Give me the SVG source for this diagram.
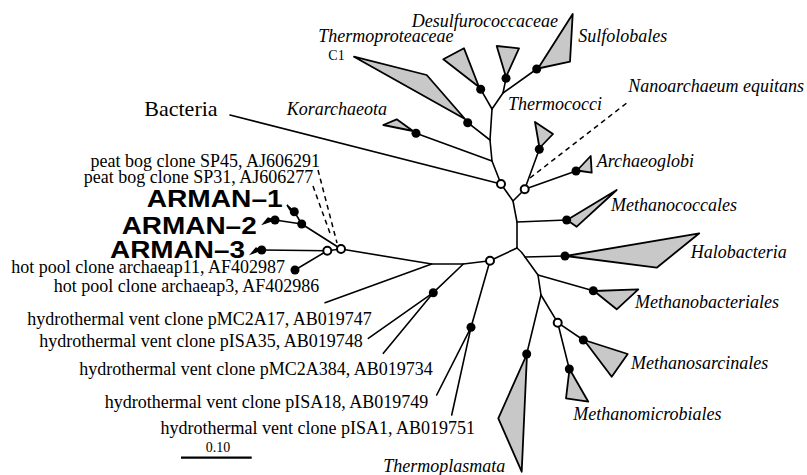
<svg xmlns="http://www.w3.org/2000/svg" width="807" height="475" viewBox="0 0 807 475">
<style>
.br{fill:none;stroke:#000;stroke-width:1.6;stroke-linecap:round;stroke-linejoin:round}
.ds{fill:none;stroke:#000;stroke-width:1.5;stroke-dasharray:5,4}
.tri{fill:#c8c8c8;stroke:#000;stroke-width:1.8;stroke-linejoin:round}
.dot{fill:#000}
.oc{fill:#fff;stroke:#000;stroke-width:2}
.lab{font-family:"Liberation Serif","Times New Roman",serif;font-size:18px;fill:#000}
.it{font-family:"Liberation Serif","Times New Roman",serif;font-size:18px;font-style:italic;fill:#000}
.arm{font-family:"Liberation Sans",Arial,sans-serif;font-weight:bold;font-size:23.5px;fill:#000}
.sm{font-family:"Liberation Serif","Times New Roman",serif;font-size:14px;fill:#000}
</style>
<rect width="807" height="475" fill="#fff"/>
<g id="connectors">
<polyline class="br" points="492,109 490,140 492,161 501,184 513,201 517,222 517,248"/>
<line class="br" x1="490" y1="140" x2="467.7" y2="122.7"/>
<line class="br" x1="492" y1="161" x2="416" y2="133.3"/>
<line class="br" x1="501" y1="184" x2="230" y2="115"/>
<line class="br" x1="492" y1="109" x2="480.7" y2="89.3"/>
<polyline class="br" points="492,109 503,93 506,78.3"/>
<line class="br" x1="503" y1="93" x2="536.7" y2="69"/>
<line class="br" x1="513" y1="201" x2="524.7" y2="189.3"/>
<line class="br" x1="524.7" y1="189.3" x2="539.3" y2="149.3"/>
<line class="br" x1="524.7" y1="189.3" x2="576" y2="171"/>
<line class="ds" x1="530" y1="178" x2="628" y2="102"/>
<line class="br" x1="517" y1="222" x2="566.7" y2="220"/>
<path class="br" d="M517,248 Q522,252 525,257 L538,275 L541,295"/>
<line class="br" x1="525" y1="257" x2="565" y2="256"/>
<line class="br" x1="538" y1="275" x2="593.3" y2="290.7"/>
<line class="br" x1="541" y1="295" x2="557.7" y2="322.7"/>
<line class="br" x1="541" y1="295" x2="526.7" y2="354"/>
<line class="br" x1="557.7" y1="322.7" x2="583.3" y2="340"/>
<line class="br" x1="557.7" y1="322.7" x2="569.3" y2="369"/>
<line class="br" x1="517" y1="248" x2="490" y2="260.7"/>
<polyline class="br" points="490,260.7 463.3,264 431.7,264 341,249"/>
<line class="br" x1="490" y1="260.7" x2="471" y2="327.3"/>
<line class="br" x1="471" y1="327.3" x2="436.7" y2="395"/>
<line class="br" x1="471" y1="327.3" x2="451.7" y2="415"/>
<line class="br" x1="463.3" y1="264" x2="433.3" y2="292.7"/>
<line class="br" x1="433.3" y1="292.7" x2="368.3" y2="338.3"/>
<line class="br" x1="433.3" y1="292.7" x2="383.3" y2="353.3"/>
<line class="br" x1="431.7" y1="264" x2="325" y2="302.7"/>
<line class="br" x1="341" y1="249" x2="327.3" y2="250.7"/>
<line class="br" x1="341" y1="249" x2="301.7" y2="224"/>
<line class="br" x1="301.7" y1="224" x2="294.3" y2="211.7"/>
<line class="br" x1="301.7" y1="224" x2="275" y2="220"/>
<line class="br" x1="327.3" y1="250.7" x2="261.7" y2="250"/>
<line class="br" x1="327.3" y1="250.7" x2="295" y2="270"/>
<line class="ds" x1="318" y1="170" x2="337" y2="243"/>
<line class="ds" x1="313" y1="186" x2="331" y2="236"/>
<line x1="181" y1="457.7" x2="251.7" y2="457.7" stroke="#000" stroke-width="2.2"/>
</g>
<g id="Thermoproteaceae"><polygon class="tri" points="354,56.7 426.7,75 465,119"/><circle class="dot" cx="467.7" cy="122.7" r="4.5"/><text class="it" x="318.3" y="42.3">Thermoproteaceae</text><text class="sm" x="328.3" y="60">C1</text></g>
<g id="Korarchaeota"><polygon class="tri" points="383.3,125 396.7,119.3 413,131"/><circle class="dot" cx="416" cy="133.3" r="4.5"/><text class="it" x="286.7" y="115">Korarchaeota</text></g>
<g id="Desulfurococcaceae"><polygon class="tri" points="443.3,59.3 464,48.3 479,87"/><circle class="dot" cx="480.7" cy="89.3" r="4.5"/><polygon class="tri" points="496.7,46 519,48.3 506,77"/><circle class="dot" cx="506" cy="78.3" r="4.5"/><text class="it" x="411.7" y="26.7">Desulfurococcaceae</text></g>
<g id="Sulfolobales"><polygon class="tri" points="572.7,14 570,61.7 538,68.5"/><circle class="dot" cx="536.7" cy="69" r="4.5"/><text class="it" x="578.3" y="41.7">Sulfolobales</text></g>
<g id="Thermococci"><polygon class="tri" points="535,122 553,134 539.5,148"/><circle class="dot" cx="539.3" cy="149.3" r="4.5"/><text class="it" x="508" y="110">Thermococci</text></g>
<g id="Nanoarchaeum"><text class="it" x="628.3" y="92">Nanoarchaeum equitans</text></g>
<g id="Archaeoglobi"><polygon class="tri" points="590.7,156 591.7,172.7 577,170.5"/><circle class="dot" cx="576" cy="171" r="4.5"/><text class="it" x="596.7" y="166.7">Archaeoglobi</text></g>
<g id="Methanococcales"><polygon class="tri" points="616.7,190 576.7,226.7 567,220"/><circle class="dot" cx="566.7" cy="220" r="4.5"/><text class="it" x="611" y="210.7">Methanococcales</text></g>
<g id="Halobacteria"><polygon class="tri" points="699.3,233.3 656.7,267.7 566,256"/><circle class="dot" cx="565" cy="256" r="4.5"/><text class="it" x="690.7" y="257.7">Halobacteria</text></g>
<g id="Methanobacteriales"><polygon class="tri" points="638.3,289.3 616.7,309.3 594,291"/><circle class="dot" cx="593.3" cy="290.7" r="4.5"/><text class="it" x="635" y="308.3">Methanobacteriales</text></g>
<g id="Methanosarcinales"><polygon class="tri" points="627.7,354 611.7,376.7 584,340"/><circle class="dot" cx="583.3" cy="340" r="4.5"/><text class="it" x="631" y="369.3">Methanosarcinales</text></g>
<g id="Methanomicrobiales"><polygon class="tri" points="566,398.3 588.3,401.7 569.5,369"/><circle class="dot" cx="569.3" cy="369" r="4.5"/><text class="it" x="573.3" y="420">Methanomicrobiales</text></g>
<g id="Thermoplasmata"><polygon class="tri" points="527,354 498.3,418.3 521.7,471.7"/><circle class="dot" cx="526.7" cy="354" r="4.5"/><text class="it" x="383.3" y="471.7">Thermoplasmata</text></g>
<g id="Bacteria"><text class="lab" x="144.3" y="116" style="font-size:22px">Bacteria</text></g>
<g id="inner-nodes">
<circle class="oc" cx="501" cy="184" r="4"/>
<circle class="oc" cx="524.7" cy="189.3" r="4"/>
<circle class="oc" cx="490" cy="260.7" r="4"/>
<circle class="oc" cx="557.7" cy="322.7" r="4"/>
<circle class="oc" cx="341" cy="249" r="4"/>
<circle class="oc" cx="327.3" cy="250.7" r="4"/>
<circle class="dot" cx="471" cy="327.3" r="4.5"/>
<circle class="dot" cx="433.3" cy="292.7" r="4.5"/>
<circle class="dot" cx="301.7" cy="224" r="4.5"/>
</g>
<g id="peatbog"><text class="lab" x="320" y="167.3" text-anchor="end">peat bog clone SP45, AJ606291</text><text class="lab" x="313.3" y="182.7" text-anchor="end">peat bog clone SP31, AJ606277</text></g>
<g id="ARMAN-1"><polygon points="294.3,211.7 287,205 290,210" fill="#000" stroke="#000" stroke-width="1.5"/><circle class="dot" cx="294.3" cy="211.7" r="4.5"/><text class="arm" x="146.7" y="207" textLength="136" lengthAdjust="spacingAndGlyphs">ARMAN–1</text></g>
<g id="ARMAN-2"><polygon points="275,220 263,224 268,218" fill="#000" stroke="#000" stroke-width="1.2"/><circle class="dot" cx="275" cy="220" r="4.5"/><text class="arm" x="121.7" y="233.5" textLength="135" lengthAdjust="spacingAndGlyphs">ARMAN–2</text></g>
<g id="ARMAN-3"><polygon points="261.7,250 251,254 256,248" fill="#000" stroke="#000" stroke-width="1.2"/><circle class="dot" cx="261.7" cy="250" r="4.5"/><text class="arm" x="110" y="258.3" textLength="135" lengthAdjust="spacingAndGlyphs">ARMAN–3</text></g>
<g id="hotpool"><circle class="dot" cx="295" cy="270" r="4.5"/><text class="lab" x="285" y="272.5" text-anchor="end">hot pool clone archaeap11, AF402987</text><text class="lab" x="319.3" y="291.7" text-anchor="end">hot pool clone archaeap3, AF402986</text></g>
<g id="hydrothermal">
<text class="lab" x="371.7" y="325" text-anchor="end">hydrothermal vent clone pMC2A17, AB019747</text>
<text class="lab" x="362.7" y="346.7" text-anchor="end">hydrothermal vent clone pISA35, AB019748</text>
<text class="lab" x="432.7" y="375" text-anchor="end">hydrothermal vent clone pMC2A384, AB019734</text>
<text class="lab" x="428.3" y="408.3" text-anchor="end">hydrothermal vent clone pISA18, AB019749</text>
<text class="lab" x="475" y="434" text-anchor="end">hydrothermal vent clone pISA1, AB019751</text>
</g>
<g id="scale"><text class="sm" x="218" y="451.7" text-anchor="middle">0.10</text></g>
</svg>
